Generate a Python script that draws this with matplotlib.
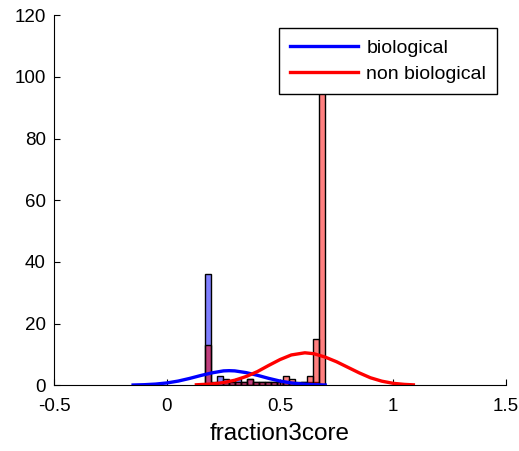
import numpy as np
import matplotlib
matplotlib.use("Agg")
import matplotlib.pyplot as plt

plt.rcParams['font.family'] = ['Liberation Sans', 'DejaVu Sans']

# histogram bins (20 bins over the data range)
bin_edges = np.linspace(0.1667, 0.7, 21)
bio_counts = [36, 1, 3, 2, 1, 2, 1, 2, 1, 1, 1, 1, 1, 1, 1, 0, 1, 1, 1, 0]
nonbio_counts = [13, 0, 0, 1, 1, 1, 1, 2, 1, 1, 1, 1, 1, 3, 2, 1, 1, 3, 15, 110]

# fitted curves
bio_fit_x = [-0.15, -0.1, -0.05, 0.0, 0.05, 0.1, 0.15, 0.2, 0.25, 0.275, 0.3,
             0.35, 0.4, 0.45, 0.5, 0.55, 0.6, 0.65, 0.7]
bio_fit_y = [0.05, 0.15, 0.35, 0.72, 1.33, 2.18, 3.14, 4.0, 4.63, 4.7, 4.63,
             4.07, 3.2, 2.2, 1.33, 0.72, 0.35, 0.15, 0.05]
nonbio_fit_x = [0.13, 0.2, 0.25, 0.3, 0.35, 0.4, 0.45, 0.5, 0.55, 0.61, 0.65,
                0.7, 0.75, 0.8, 0.85, 0.9, 0.95, 1.0, 1.05, 1.09]
nonbio_fit_y = [0.12, 0.39, 0.84, 1.6, 2.8, 4.4, 6.4, 8.3, 9.8, 10.5, 10.2,
                9.1, 7.6, 5.8, 4.0, 2.4, 1.3, 0.6, 0.25, 0.1]

xticks = [-0.5, 0, 0.5, 1, 1.5]
xtick_labels = ['-0.5', '0', '0.5', '1', '1.5']
yticks = [0, 20, 40, 60, 80, 100, 120]

fig = plt.figure(figsize=(5.19, 4.51), dpi=100)
ax = fig.add_axes([0.104, 0.146, 0.871, 0.820])

widths = np.diff(bin_edges)
ax.bar(bin_edges[:-1], bio_counts, width=widths, align='edge',
       color=(0, 0, 1, 0.5), edgecolor='black', linewidth=1)
ax.bar(bin_edges[:-1], nonbio_counts, width=widths, align='edge',
       color=(1, 0, 0, 0.5), edgecolor='black', linewidth=1)

ax.plot(bio_fit_x, bio_fit_y, color='blue', lw=2.4, label='biological')
ax.plot(nonbio_fit_x, nonbio_fit_y, color='red', lw=2.4, label='non biological')

ax.set_xlim(-0.5, 1.5)
ax.set_ylim(0, 120)
ax.set_xticks(xticks)
ax.set_xticklabels(xtick_labels)
ax.set_yticks(yticks)
ax.tick_params(direction='in', labelsize=13.5, length=4)
ax.tick_params(axis='x', pad=9)
ax.tick_params(axis='y', pad=6)
ax.spines['top'].set_visible(False)
ax.spines['right'].set_visible(False)
ax.set_xlabel('fraction3core', fontsize=17.5, labelpad=6)

leg = ax.legend(loc='upper right', bbox_to_anchor=(0.980, 0.965), fontsize=14,
                frameon=True, fancybox=False, edgecolor='black',
                framealpha=1, handlelength=3.5, handletextpad=0.45,
                borderpad=0.55, labelspacing=0.45, borderaxespad=0)
leg.get_frame().set_linewidth(1)

fig.savefig('out.png', dpi=100)
